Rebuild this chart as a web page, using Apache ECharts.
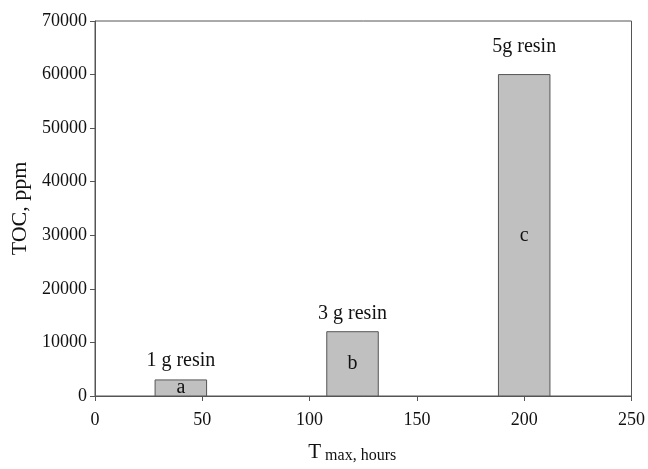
<!DOCTYPE html>
<html>
<head>
<meta charset="utf-8">
<script src="https://cdn.jsdelivr.net/npm/echarts@6/dist/echarts.min.js"></script>
<style>html,body{margin:0;padding:0;background:#fff}#c{width:648px;height:469px}</style>
</head>
<body>
<div id="c"></div>
<script>
// Data
const xPositions = [40, 120, 200];          // T max, hours (bar centres)
const tocValues = [3000, 12000, 60000];     // TOC, ppm
const barLetters = ['a', 'b', 'c'];
const resinLabels = ['1 g resin', '3 g resin', '5g resin'];
const xTicks = [0, 50, 100, 150, 200, 250];
const yTicks = [0, 10000, 20000, 30000, 40000, 50000, 60000, 70000];

// Style constants
const FONT = '"Liberation Serif", "Times New Roman", serif';
const barHalfWidth = 12;          // in x-axis units
const topLabelGap = [19, 18, 28]; // pixels above bar top

const data = xPositions.map((x, i) => [x, tocValues[i], i]);

const chart = echarts.init(document.getElementById('c'));
chart.setOption({
  animation: false,
  backgroundColor: '#fff',
  grid: { left: 95, right: 15, top: 21, bottom: 71, show: true, borderColor: '#555', borderWidth: 1, backgroundColor: 'transparent' },
  xAxis: {
    type: 'value', min: xTicks[0], max: xTicks[xTicks.length - 1], interval: 50,
    axisLine: { show: true, onZero: false, lineStyle: { color: '#555', width: 1 } },
    axisTick: { show: true, inside: false, length: 5, lineStyle: { color: '#555' } },
    splitLine: { show: false },
    axisLabel: { color: '#111', fontFamily: FONT, fontSize: 18, margin: 15, formatter: v => String(v) },
    name: '{t|T}{s|max, hours}',
    nameLocation: 'middle', nameGap: 46,
    nameTextStyle: {
      padding: [0, 22, 0, 0],
      rich: {
        t: { fontFamily: FONT, fontSize: 21, color: '#111', verticalAlign: 'top', lineHeight: 22, padding: [0, 4, 0, 0] },
        s: { fontFamily: FONT, fontSize: 16, color: '#111', verticalAlign: 'bottom', lineHeight: 16, padding: [12, 0, 0, 0] }
      }
    }
  },
  yAxis: {
    type: 'value', min: yTicks[0], max: yTicks[yTicks.length - 1], interval: 10000,
    axisLine: { show: true, onZero: false, lineStyle: { color: '#555', width: 1 } },
    axisTick: { show: true, inside: false, length: 5, lineStyle: { color: '#555' } },
    splitLine: { show: false },
    axisLabel: { color: '#111', fontFamily: FONT, fontSize: 18, margin: 8, formatter: v => String(v) },
    name: 'TOC, ppm', nameLocation: 'middle', nameGap: 62, nameRotate: 90,
    nameTextStyle: { fontFamily: FONT, fontSize: 22, color: '#111' }
  },
  series: [{
    type: 'custom',
    data: data,
    encode: { x: 0, y: 1 },
    renderItem: function (params, api) {
      const x = api.value(0), y = api.value(1), i = api.value(2);
      const p0 = api.coord([x - barHalfWidth, 0]);
      const p1 = api.coord([x + barHalfWidth, y]);
      const cx = (p0[0] + p1[0]) / 2;
      return {
        type: 'group',
        children: [
          { type: 'rect', shape: { x: p0[0], y: p1[1], width: p1[0] - p0[0], height: p0[1] - p1[1] },
            style: { fill: '#c0c0c0', stroke: '#555', lineWidth: 1 } },
          { type: 'text', style: { x: cx, y: (p0[1] + p1[1]) / 2, text: barLetters[i], fill: '#111',
            font: '20px ' + FONT, textAlign: 'center', textVerticalAlign: 'middle' } },
          { type: 'text', style: { x: cx, y: p1[1] - topLabelGap[i], text: resinLabels[i], fill: '#111',
            font: '20px ' + FONT, textAlign: 'center', textVerticalAlign: 'middle' } }
        ]
      };
    }
  }]
});
</script>
</body>
</html>
